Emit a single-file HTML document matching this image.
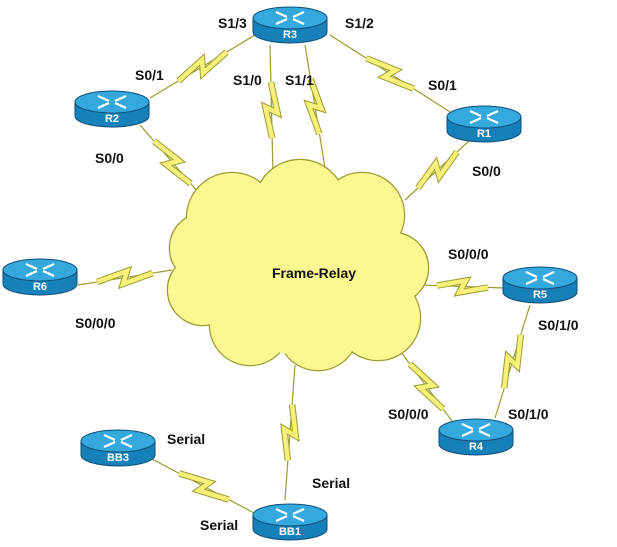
<!DOCTYPE html>
<html><head><style>
html,body{margin:0;padding:0;background:#fff;width:617px;height:547px;overflow:hidden}
text{font-family:"Liberation Sans",Arial,sans-serif;font-weight:bold}
</style></head><body>
<svg id="s" width="617" height="547" xmlns="http://www.w3.org/2000/svg">
<g id="links"></g>
<g id="cloud">
<g fill="#fbf791" stroke="#9c9c30" stroke-width="2.5">
<circle cx="232" cy="218" r="45"/><circle cx="300" cy="205" r="45"/><circle cx="362" cy="215" r="42"/>
<circle cx="393" cy="268" r="35"/><circle cx="378" cy="318" r="42"/><circle cx="318" cy="330" r="40"/>
<circle cx="250" cy="325" r="40"/><circle cx="203" cy="290" r="35"/><circle cx="205" cy="248" r="35"/>
</g>
<g fill="#fbf791">
<circle cx="232" cy="218" r="45"/><circle cx="300" cy="205" r="45"/><circle cx="362" cy="215" r="42"/>
<circle cx="393" cy="268" r="35"/><circle cx="378" cy="318" r="42"/><circle cx="318" cy="330" r="40"/>
<circle cx="250" cy="325" r="40"/><circle cx="203" cy="290" r="35"/><circle cx="205" cy="248" r="35"/>
<circle cx="300" cy="270" r="85"/>
</g>
<text x="314" y="278" font-size="14" text-anchor="middle" fill="#111">Frame-Relay</text>
</g>
<g id="routers"></g>
<g font-size="14" fill="#111">
<text x="218" y="28">S1/3</text><text x="345" y="28">S1/2</text>
<text x="135" y="80">S0/1</text><text x="233" y="85">S1/0</text><text x="285" y="85">S1/1</text>
<text x="428" y="90">S0/1</text><text x="95" y="163">S0/0</text><text x="472" y="176">S0/0</text>
<text x="448" y="259">S0/0/0</text><text x="75" y="328">S0/0/0</text><text x="538" y="330">S0/1/0</text>
<text x="388" y="419">S0/0/0</text><text x="508" y="419">S0/1/0</text>
<text x="167" y="444">Serial</text><text x="312" y="488">Serial</text><text x="200" y="530">Serial</text>
</g>
</svg>
<script>
var NS="http://www.w3.org/2000/svg";
function el(p,t,a){var e=document.createElementNS(NS,t);for(var k in a)e.setAttribute(k,a[k]);p.appendChild(e);return e;}
var L=document.getElementById("links");
var links=[[255,35,150,98],[330,35,450,112],[270,45,273,175],[305,45,325,168],[140,125,205,200],[470,140,405,200],[78,285,172,270],[505,288,420,285],[398,348,455,425],[530,305,495,418],[295,365,285,500],[150,458,258,515]];
links.forEach(function(l){
var ax=l[0],ay=l[1],bx=l[2],by=l[3],dx=bx-ax,dy=by-ay,len=Math.hypot(dx,dy);dx/=len;dy/=len;var nx=-dy,ny=dx;
var mx=(ax+bx)/2,my=(ay+by)/2;
function p(a,b){return (mx+dx*a+nx*b).toFixed(1)+","+(my+dy*a+ny*b).toFixed(1);}
el(L,"line",{x1:ax,y1:ay,x2:bx,y2:by,stroke:"#9c9c30","stroke-width":1.2});
var s=Math.min(28,len*0.3);
var pts=[p(-s,0),p(3,-6),p(-3,6),p(s,0)].join(" ");
el(L,"polyline",{points:pts,fill:"none",stroke:"#9c9c30","stroke-width":6.5,"stroke-linejoin":"miter","stroke-miterlimit":10});
el(L,"polyline",{points:pts,fill:"none",stroke:"#f7f07a","stroke-width":4.5,"stroke-linejoin":"miter","stroke-miterlimit":10});
});
var R=document.getElementById("routers");
var rs=[["R3",290,18],["R2",112,102],["R1",484,117],["R6",40,270],["R5",540,278],["R4",476,430],["BB3",118,441],["BB1",290,515]];
rs.forEach(function(r){
var x=r[1],y=r[2],rx=37,ry=11,h=14;
el(R,"path",{d:"M"+(x-rx)+","+y+" v"+h+" a"+rx+","+ry+" 0 0 0 "+(2*rx)+",0 v"+(-h)+" z",fill:"#1680b8",stroke:"#0c4f78","stroke-width":1});
el(R,"ellipse",{cx:x,cy:y,rx:rx,ry:ry,fill:"#35a8de",stroke:"#0c4f78","stroke-width":1});
var g=el(R,"g",{stroke:"#fff","stroke-width":2.2,fill:"none"});
el(g,"line",{x1:x-14,y1:y-6,x2:x-3,y2:y-1});el(g,"line",{x1:x+14,y1:y+6,x2:x+3,y2:y+1});
el(g,"line",{x1:x+14,y1:y-6,x2:x+3,y2:y-1});el(g,"line",{x1:x-14,y1:y+6,x2:x-3,y2:y+1});
var t=el(R,"text",{x:x,y:y+20,"font-size":11,fill:"#fff","text-anchor":"middle"});t.textContent=r[0];
});
</script>
</body></html>
